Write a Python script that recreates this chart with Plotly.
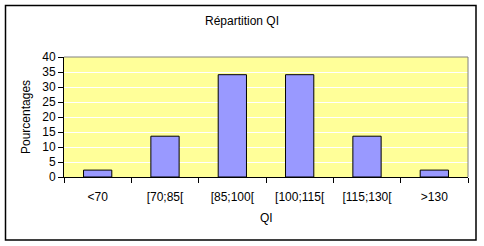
import plotly.graph_objects as go

categories = ["<70", "[70;85[", "[85;100[", "[100;115[", "[115;130[", ">130"]
values = [2.3, 13.6, 34.1, 34.1, 13.6, 2.3]
y_ticks = [0, 5, 10, 15, 20, 25, 30, 35, 40]

W, H = 484, 246
L, R, T, B = 64, 16, 57, 69
pw, ph = W - L - R, H - T - B

def px_x(x):
    return (x - L) / pw

def px_y(y):
    return (H - B - y) / ph

font = dict(family="Liberation Sans, Arial, sans-serif", size=12, color="black")

fig = go.Figure(go.Bar(
    x=categories, y=values,
    marker=dict(color="#9999FF", line=dict(color="black", width=1)),
))

fig.update_layout(
    width=W, height=H,
    margin=dict(l=L, r=R, t=T, b=B),
    paper_bgcolor="white",
    plot_bgcolor="#FFFF99",
    bargap=0.58,
    showlegend=False,
    font=font,
    title=dict(text="Répartition QI", x=0.5, xref="container", xanchor="center",
               y=1 - 21 / H, yanchor="middle", font=font),
)

fig.update_xaxes(
    showgrid=False, showline=True, linecolor="black", linewidth=1,
    ticks="outside", ticklen=5, tickcolor="black", tickson="boundaries",
    tickfont=font, ticklabelstandoff=9,
)
fig.update_yaxes(
    range=[0, 40], tickvals=y_ticks, showgrid=True, gridcolor="white", gridwidth=1,
    showline=True, linecolor="black", linewidth=1, zeroline=False,
    ticks="outside", ticklen=5, tickcolor="black", tickfont=font,
)

fig.add_annotation(text="Pourcentages", textangle=-90, xref="paper", yref="paper",
                   x=px_x(26), y=0.5, showarrow=False, font=font,
                   xanchor="center", yanchor="middle")
fig.add_annotation(text="QI", xref="paper", yref="paper",
                   x=0.5, y=px_y(218), showarrow=False, font=font,
                   xanchor="center", yanchor="middle")

# plot area gray top/right edges
fig.add_shape(type="line", xref="paper", yref="paper", x0=0, x1=1, y0=1, y1=1,
              line=dict(color="#808080", width=1))
fig.add_shape(type="line", xref="paper", yref="paper", x0=1, x1=1, y0=0, y1=1,
              line=dict(color="#808080", width=1))
# outer chart border
fig.add_shape(type="rect", xref="paper", yref="paper",
              x0=px_x(5.5), x1=px_x(476), y0=px_y(240), y1=px_y(5.5),
              line=dict(color="black", width=1.5), fillcolor="rgba(0,0,0,0)")

fig.write_html("out.html")
